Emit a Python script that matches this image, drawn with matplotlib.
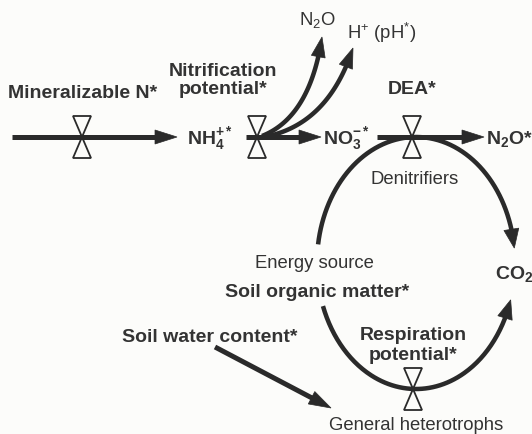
import numpy as np
import matplotlib
matplotlib.use("Agg")
import matplotlib.pyplot as plt
from matplotlib.patches import Polygon

plt.rcParams['font.family'] = ['Liberation Sans', 'DejaVu Sans']
plt.rcParams['mathtext.fontset'] = 'custom'
plt.rcParams['mathtext.rm'] = 'Liberation Sans'
plt.rcParams['mathtext.bf'] = 'Liberation Sans:bold'
plt.rcParams['mathtext.it'] = 'Liberation Sans:italic'
plt.rcParams['mathtext.default'] = 'rm'

INK = '#2a2a2a'
TXT = '#333333'
BG = '#fcfcfa'

# ---- diagram content (pixel layout of the reference) ----
# bold labels: (text, x, baseline_y, ha)
bold_labels = [
    ("Mineralizable N*", 83, 98, 'center'),
    ("Nitrification", 223, 76, 'center'),
    ("potential*", 223, 94, 'center'),
    (r"NH$\mathbf{_4^{+*}}$", 187, 144, 'left'),
    (r"NO$\mathbf{_3^{-*}}$", 323, 144, 'left'),
    ("DEA*", 412, 94, 'center'),
    (r"N$\mathbf{_2}$O*", 486, 144, 'left'),
    (r"CO$\mathbf{_2}$", 495, 279, 'left'),
    ("Soil organic matter*", 225, 297, 'left'),
    ("Soil water content*", 122, 342, 'left'),
    ("Respiration", 413, 340, 'center'),
    ("potential*", 413, 360, 'center'),
]
regular_labels = [
    (r"N$_2$O", 317, 25, 'center'),
    (r"H$^{+}$ (pH$^{*}$)", 347, 39, 'left'),
    ("Denitrifiers", 415, 184, 'center'),
    ("Energy source", 255, 268, 'left'),
    ("General heterotrophs", 416, 430, 'center'),
]

# straight flow arrows: (x0, y0, x1, y1)
straight_arrows = [(12, 138, 177, 138), (246, 138, 321, 138),
                   (377, 138, 484, 138), (215, 348, 331, 409)]
# valves (hourglass) centres
valves = [(82, 138), (257, 138), (412, 138), (413, 390)]
valve_half_w, valve_half_h = 9, 21

# quadratic curves from nitrification valve: (P0, P1, P2)
curves = [((262, 137), (310, 118), (322, 38)),
          ((264, 138), (328, 126), (353, 49))]

# loop (ellipse) around soil organic matter
loop_center = (416, 264)
loop_axes = (99, 126)
loop_arcs_deg = [(171.5, 6.8), (200.0, 343.0)]  # upper arc, lower arc

fig = plt.figure(figsize=(5.32, 4.35), dpi=100, facecolor=BG)
ax = fig.add_axes([0, 0, 1, 1])
ax.set_xlim(0, 532)
ax.set_ylim(435, 0)
ax.axis('off')
ax.set_facecolor(BG)


def draw_arrow(xs, ys, lw_px, head_len=21, head_w=14):
    xs = np.asarray(xs, float)
    ys = np.asarray(ys, float)
    tip = np.array([xs[-1], ys[-1]])
    d = np.hypot(xs - tip[0], ys - tip[1])
    keep = d > head_len * 0.7
    idx = np.where(d >= head_len)[0]
    back = np.array([xs[idx[-1]], ys[idx[-1]]]) if len(idx) else np.array([xs[0], ys[0]])
    u = (tip - back) / np.linalg.norm(tip - back)
    n = np.array([-u[1], u[0]])
    base = tip - u * head_len
    ax.plot(list(xs[keep]) + [base[0] + u[0] * 3], list(ys[keep]) + [base[1] + u[1] * 3],
            color=INK, lw=lw_px * 0.72, solid_capstyle='butt', zorder=2)
    tri = [tip, base + n * head_w / 2, base - n * head_w / 2]
    ax.add_patch(Polygon(tri, closed=True, facecolor=INK, edgecolor=INK, lw=0.5, zorder=3))


for x0, y0, x1, y1 in straight_arrows:
    t = np.linspace(0, 1, 60)
    draw_arrow(x0 + (x1 - x0) * t, y0 + (y1 - y0) * t, 5.0, head_len=22, head_w=14)

for P0, P1, P2 in curves:
    t = np.linspace(0, 1, 120)
    bx = (1 - t) ** 2 * P0[0] + 2 * (1 - t) * t * P1[0] + t ** 2 * P2[0]
    by = (1 - t) ** 2 * P0[1] + 2 * (1 - t) * t * P1[1] + t ** 2 * P2[1]
    draw_arrow(bx, by, 4.5, head_len=20, head_w=14)

cx, cy = loop_center
a, b = loop_axes
for th0, th1 in loop_arcs_deg:
    th = np.radians(np.linspace(th0, th1, 200))
    draw_arrow(cx + a * np.cos(th), cy - b * np.sin(th), 4.5, head_len=19, head_w=15)

for vx, vy in valves:
    top = [(vx - valve_half_w, vy - valve_half_h), (vx + valve_half_w, vy - valve_half_h), (vx, vy)]
    bot = [(vx - valve_half_w, vy + valve_half_h), (vx + valve_half_w, vy + valve_half_h), (vx, vy)]
    for tri in (top, bot):
        ax.add_patch(Polygon(tri, closed=True, fill=False, edgecolor=INK, lw=1.3, zorder=4))

for s, x, y, ha in bold_labels:
    ax.text(x, y, s, fontsize=14, fontweight='bold', color=TXT, ha=ha, va='baseline', zorder=5)
for s, x, y, ha in regular_labels:
    ax.text(x, y, s, fontsize=13.3, color=TXT, ha=ha, va='baseline', zorder=5)

fig.savefig("out.png", dpi=100, facecolor=BG)
